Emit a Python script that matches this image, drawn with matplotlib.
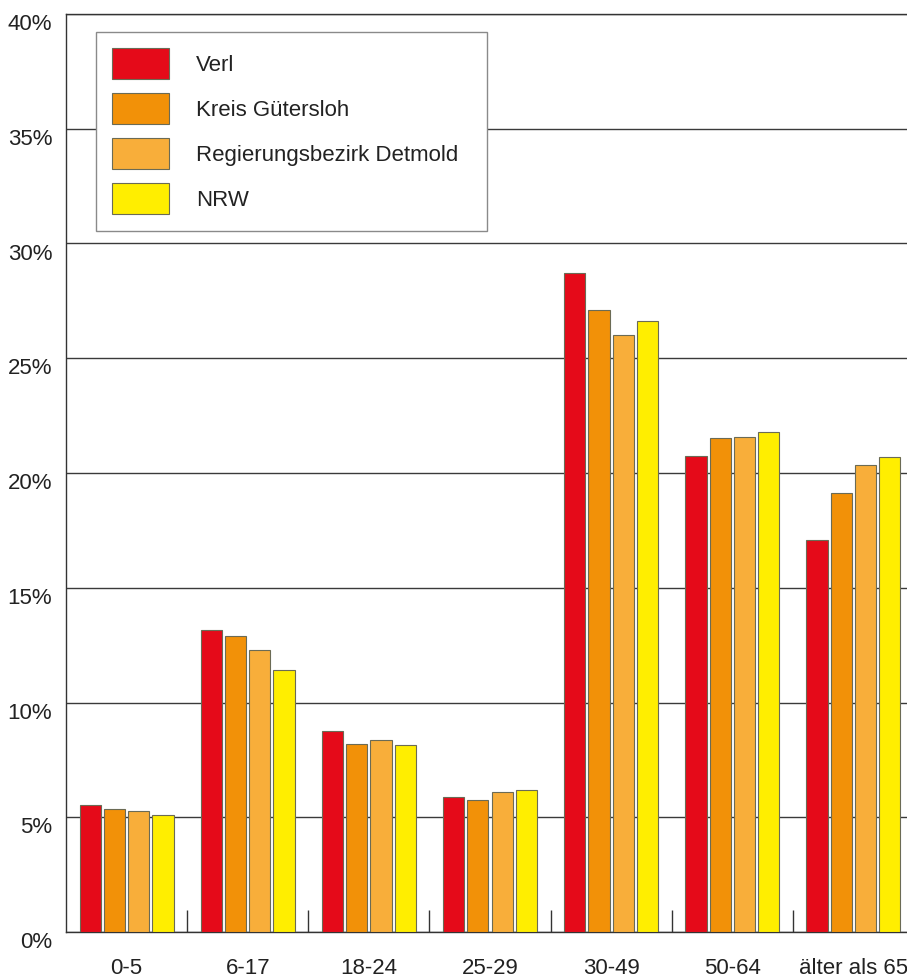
import matplotlib
matplotlib.use("Agg")
import matplotlib.pyplot as plt
import matplotlib.transforms as mtransforms
import numpy as np

plt.rcParams['font.family'] = ['Liberation Sans', 'DejaVu Sans']

# Age groups and population shares (%)
categories = ["0-5", "6-17", "18-24", "25-29", "30-49", "50-64", "älter als 65"]
series_names = ["Verl", "Kreis Gütersloh", "Regierungsbezirk Detmold", "NRW"]
verl = [5.53, 13.16, 8.76, 5.88, 28.73, 20.74, 17.08]
kreis_guetersloh = [5.36, 12.88, 8.19, 5.75, 27.09, 21.52, 19.13]
rb_detmold = [5.27, 12.29, 8.37, 6.10, 26.01, 21.55, 20.34]
nrw = [5.11, 11.42, 8.15, 6.19, 26.64, 21.79, 20.68]
y_ticks = [0, 5, 10, 15, 20, 25, 30, 35, 40]
y_tick_labels = ["0%", "5%", "10%", "15%", "20%", "25%", "30%", "35%", "40%"]

series = [verl, kreis_guetersloh, rb_detmold, nrw]
colors = ["#E50A19", "#F29108", "#F8AE3A", "#FFEE00"]

W, H = 907, 980
fig = plt.figure(figsize=(W / 100, H / 100), dpi=100)
ax = fig.add_axes([66 / W, 48 / H, (914 - 66) / W, (932 - 14) / H])

x = np.arange(len(categories))
pitch = 0.2
width = 0.175
for i, (vals, col, name) in enumerate(zip(series, colors, series_names)):
    ax.bar(x + (i - 1.5) * pitch, vals, width=width, color=col,
           edgecolor="#6b6b55", linewidth=0.8, label=name, zorder=3)

ax.set_xlim(-0.5, len(categories) - 0.5)
ax.set_ylim(0, 40)

tick_fs = 16

# horizontal grid
ax.set_yticks(y_ticks)
ax.set_yticklabels(y_tick_labels, fontsize=tick_fs, color="#222222")
ax.yaxis.grid(True, color="#3a3a3a", linewidth=1.0, zorder=0)
ax.set_axisbelow(True)
ax.tick_params(axis="y", length=0, pad=10)
offset = mtransforms.ScaledTranslation(0, -8 / 100, fig.dpi_scale_trans)
for lab in ax.get_yticklabels():
    lab.set_transform(lab.get_transform() + offset)

# category labels centered, separator ticks between groups
ax.set_xticks(x)
ax.set_xticklabels(categories, fontsize=tick_fs, color="#222222")
ax.tick_params(axis="x", which="major", length=0, pad=19)
ax.set_xticks(np.arange(0.5, len(categories) - 0.5, 1.0), minor=True)
ax.tick_params(axis="x", which="minor", direction="in", length=16,
               width=1.0, color="#333333")

for side in ["left", "bottom", "top"]:
    ax.spines[side].set_color("#333333")
    ax.spines[side].set_linewidth(1.0)
ax.spines["right"].set_visible(False)

fs = 16
fs_px = fs * 100 / 72
leg = ax.legend(loc="upper left",
                bbox_to_anchor=(96 / W, 1 - 33 / H, (487 - 96) / W, 0.001),
                bbox_transform=fig.transFigure, mode="expand",
                borderaxespad=0, fontsize=fs, frameon=True, fancybox=False,
                handlelength=57 / fs_px, handleheight=1.77,
                handletextpad=27 / fs_px, labelspacing=0.63,
                borderpad=0.73, framealpha=1)
leg.get_frame().set_edgecolor("#8a8a8a")
leg.get_frame().set_linewidth(1.0)
for t in leg.get_texts():
    t.set_color("#222222")
leg.set_zorder(5)

fig.savefig("out.png", dpi=100)
